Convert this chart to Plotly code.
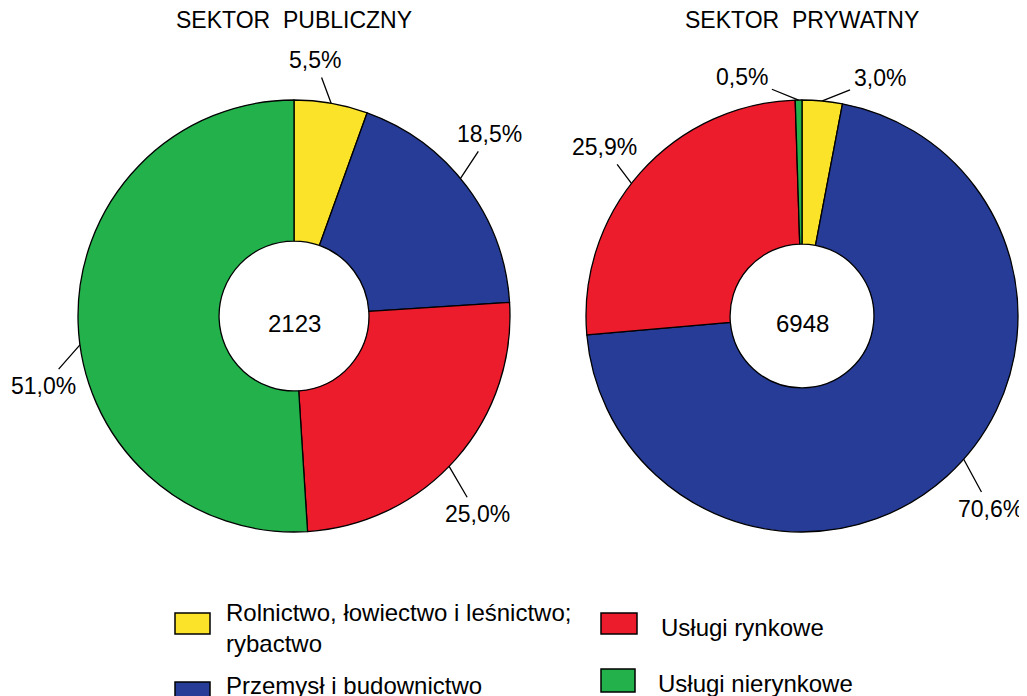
import math
import plotly.graph_objects as go

# ---------------- data ----------------
categories = ["Rolnictwo, łowiectwo i leśnictwo; rybactwo",
              "Przemysł i budownictwo",
              "Usługi rynkowe",
              "Usługi nierynkowe"]
legend_texts = ["Rolnictwo, łowiectwo i leśnictwo;<br>rybactwo",
                "Przemysł i budownictwo",
                "Usługi rynkowe",
                "Usługi nierynkowe"]
public_values = [5.5, 18.5, 25.0, 51.0]
private_values = [3.0, 70.6, 25.9, 0.5]
public_total = "2123"
private_total = "6948"
titles = ["SEKTOR\u00a0\u00a0PUBLICZNY", "SEKTOR\u00a0\u00a0PRYWATNY"]

# ---------------- style ----------------
colors = ["#FBE32A", "#263C96", "#EC1C2C", "#23B14B"]
FONT = "Liberation Sans, Arial, sans-serif"
W, H = 1027, 696
OFF = 8  # page body margin in the browser
FW, FH = W - OFF, H - OFF

pies = [
    dict(values=public_values, total=public_total, title=titles[0],
         cx=294, cy=316, r=216, hole=0.347,
         anchor_frac=[0.5, 0.46, 0.53, 0.468],
         label_off=[(-16, -43), (29, -44), (28, 48), (-36, 41)]),
    dict(values=private_values, total=private_total, title=titles[1],
         cx=802, cy=316, r=216, hole=0.333,
         anchor_frac=[0.5, 0.475, 0.46, 0.5],
         label_off=[(58, -23), (27, 50), (-27, -36), (-57, -23)]),
]


def px(x):
    return (x - OFF) / FW


def py(y):
    return 1 - (y - OFF) / FH


def fmt(v):
    return f"{v:.1f}".replace(".", ",") + "%"


fig = go.Figure()
annotations = []
shapes = []

for p in pies:
    cx, cy, r = p["cx"], p["cy"], p["r"]
    fig.add_trace(go.Pie(
        labels=categories, values=p["values"], hole=p["hole"],
        sort=False, direction="clockwise", rotation=0,
        marker=dict(colors=colors, line=dict(color="black", width=1.3)),
        textinfo="none", hoverinfo="label+percent", showlegend=False,
        domain=dict(x=[px(cx - r), px(cx + r)], y=[py(cy + r), py(cy - r)]),
    ))
    total = sum(p["values"])
    start = 0.0
    for v, frac, off in zip(p["values"], p["anchor_frac"], p["label_off"]):
        ang = math.radians(360.0 * (start + frac * v) / total)
        ex = cx + r * math.sin(ang)
        ey = cy - r * math.cos(ang)
        annotations.append(dict(
            x=px(ex), y=py(ey), xref="paper", yref="paper",
            text=fmt(v), showarrow=True, arrowhead=0, arrowwidth=1.3,
            arrowcolor="black", ax=off[0], ay=off[1], startstandoff=3,
            font=dict(family=FONT, size=23, color="black"),
        ))
        start += v
    # center total
    annotations.append(dict(
        x=px(cx), y=py(cy + 7), xref="paper", yref="paper",
        text=p["total"], showarrow=False,
        font=dict(family=FONT, size=24, color="black"),
        xanchor="center", yanchor="middle",
    ))
    # title
    annotations.append(dict(
        x=px(cx), y=py(20), xref="paper", yref="paper",
        text=p["title"], showarrow=False,
        font=dict(family=FONT, size=23, color="black"),
        xanchor="center", yanchor="middle",
    ))

# ---------------- legend (manual) ----------------
legend_items = [
    dict(box=(175, 613, 210, 634), tx=224, ty=628),
    dict(box=(175, 682, 210, 703), tx=224, ty=685),
    dict(box=(601, 613, 637, 634), tx=659, ty=627),
    dict(box=(601, 669, 635, 692), tx=656, ty=683),
]
for item, col, txt in zip(legend_items, colors, legend_texts):
    x0, y0, x1, y1 = item["box"]
    shapes.append(dict(type="rect", xref="paper", yref="paper",
                       x0=px(x0), x1=px(x1), y0=py(y1), y1=py(y0),
                       fillcolor=col, line=dict(color="black", width=1.5)))
    annotations.append(dict(
        x=px(item["tx"]), y=py(item["ty"]), xref="paper", yref="paper",
        text=txt, showarrow=False, align="left",
        xanchor="left", yanchor="middle",
        font=dict(family=FONT, size=24, color="black"),
    ))

fig.update_layout(
    width=FW, height=FH,
    margin=dict(l=0, r=0, t=0, b=0),
    paper_bgcolor="white", plot_bgcolor="white",
    annotations=annotations, shapes=shapes,
    showlegend=False,
)

fig.write_html("out.html")
